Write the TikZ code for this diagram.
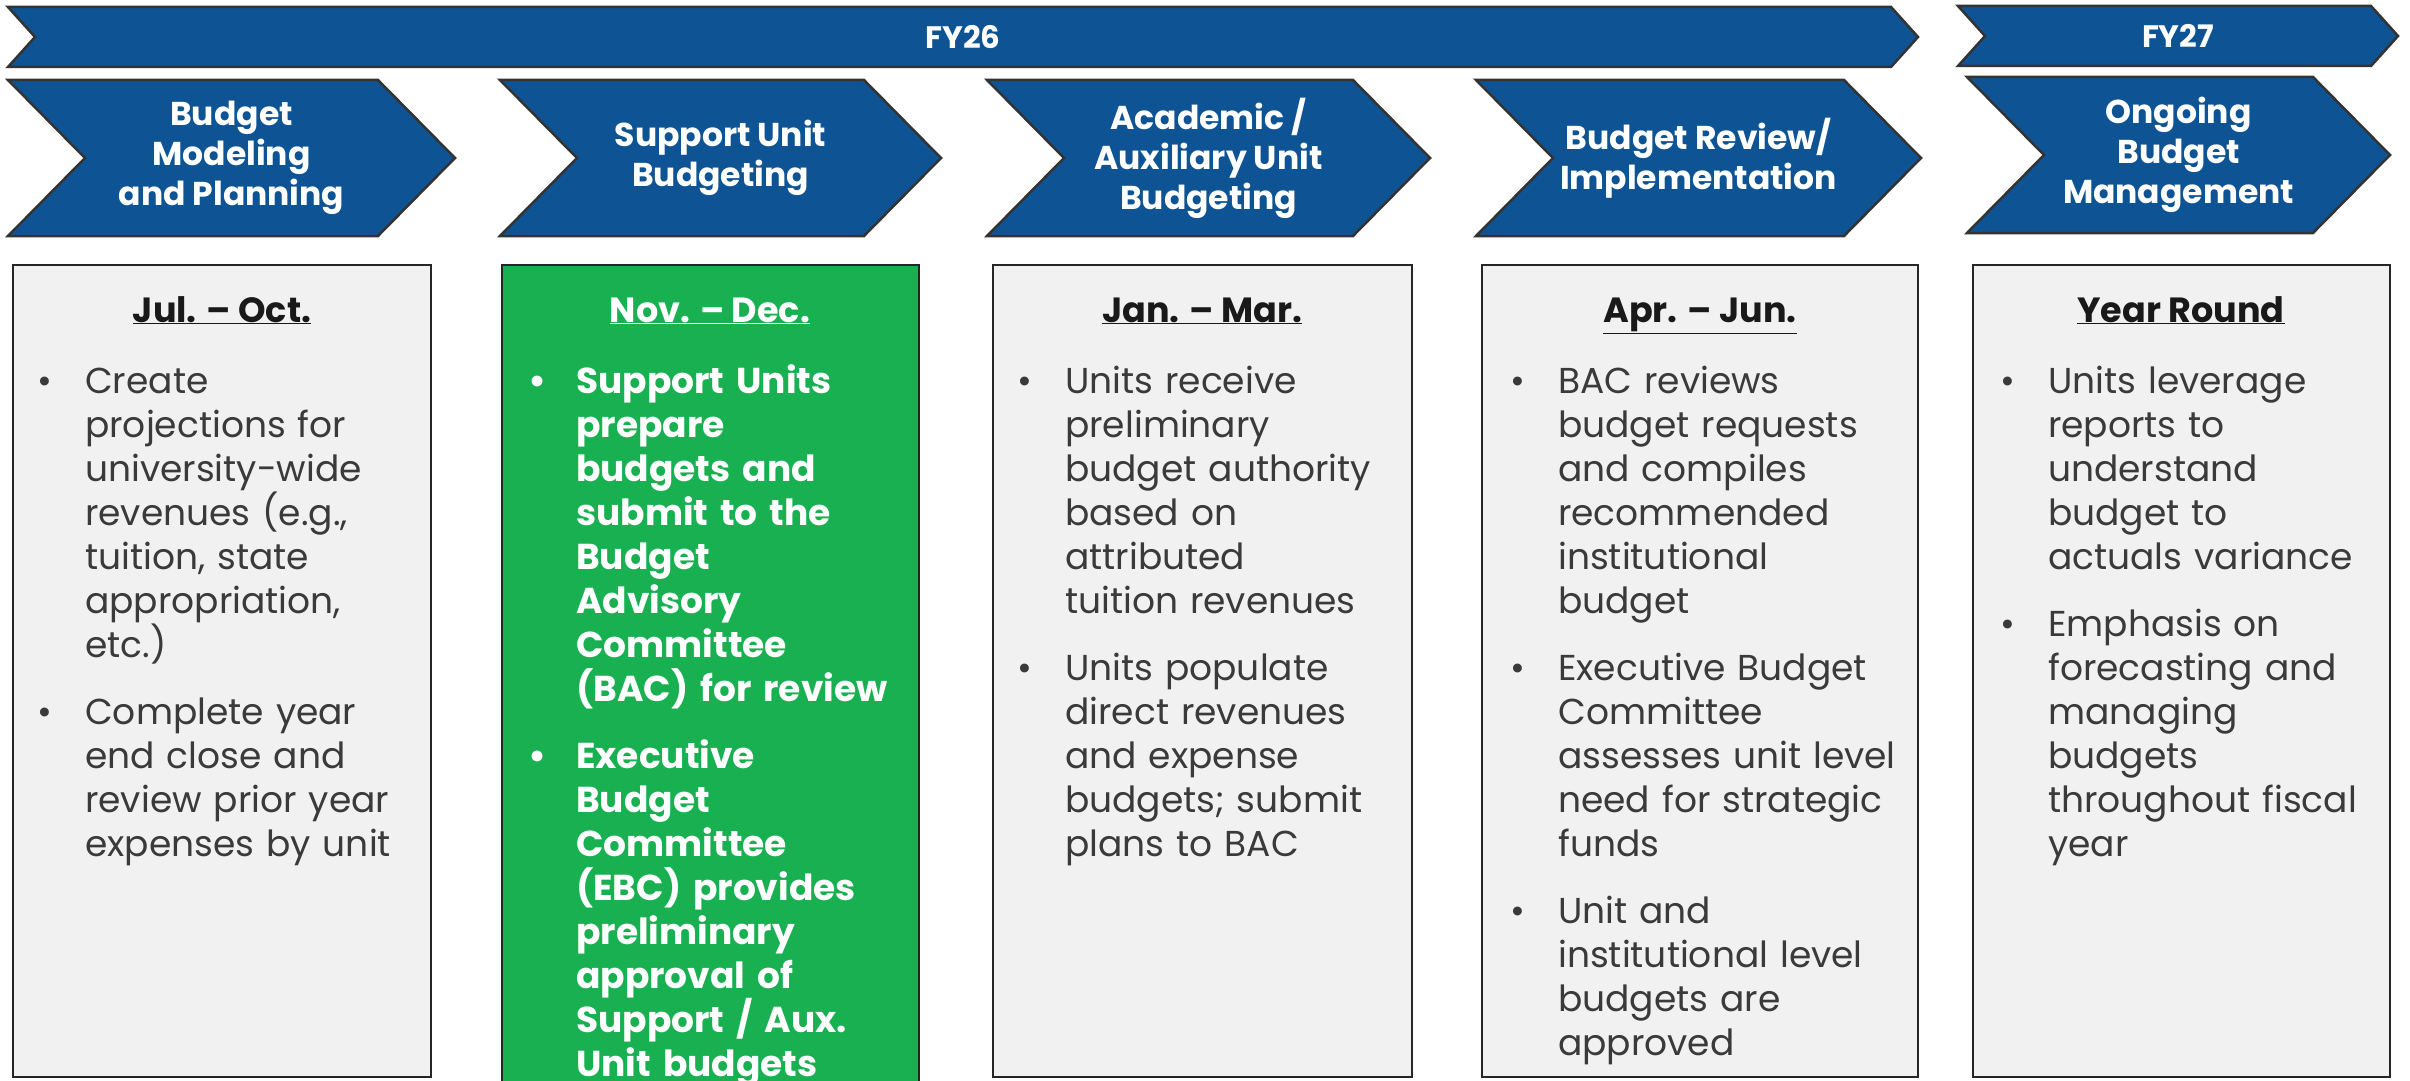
\documentclass[tikz,border=0pt]{standalone}
\usepackage{fontspec}
\setmainfont{Poppins}
\definecolor{navy}{RGB}{14,84,148}
\definecolor{grn}{RGB}{24,176,80}
\definecolor{boxgray}{HTML}{F1F1F1}
\definecolor{txt}{HTML}{3A3A3A}
\newcommand\bu{\makebox[43pt][l]{\hspace*{-5pt}\textbullet}}
\newcommand\ind{\hspace*{43pt}}
\newcommand\chev[6]{% name, x0, ytop, ybot, width, depth
  \draw[chev] (#2,#3) -- (#2+#5-#6,#3) -- (#2+#5,{(#3+#4)/2}) -- (#2+#5-#6,#4) -- (#2,#4) -- (#2+#6,{(#3+#4)/2}) -- cycle;
  \coordinate (#1) at ({#2+#5/2},{(#3+#4)/2});}
\begin{document}
\begin{tikzpicture}[x=1pt,y=-1pt,
  chev/.style={fill=navy,draw=black!80,line width=2.5,line join=miter},
  chevtext/.style={text=white,font=\fontsize{33}{40}\selectfont\bfseries,align=center,inner sep=0},
  yeartext/.style={text=white,font=\fontsize{31}{40}\selectfont\bfseries,align=center,inner sep=0},
  card/.style={fill=boxgray,draw=black!85,line width=2.5},
  head/.style={font=\fontsize{35}{42}\selectfont\bfseries,text=black!90,anchor=base,inner sep=0},
  body/.style={font=\fontsize{36}{44}\selectfont,text=txt,anchor=base west,inner sep=0,text width=420pt,align=left}]
\useasboundingbox (0,0) rectangle (2410,1081);
\fill[white] (0,0) rectangle (2410,1081);

% top year bars
\chev{fy26c}{8}{7}{67}{1910}{27}
\chev{fy27c}{1958}{6}{66}{440}{27}
\node[yeartext] (fy26) at (fy26c) {FY26};
\node[yeartext] (fy27) at (fy27c) {FY27};

% phase chevrons
\chev{c1}{8}{80}{236}{447}{77}
\chev{c2}{500}{80}{236}{441}{77}
\chev{c3}{987}{80}{236}{443}{77}
\chev{c4}{1476}{80}{236}{445}{77}
\chev{c5}{1967}{77}{233}{423}{77}
\node[chevtext] (t1) at (c1) {Budget\\Modeling\\and Planning};
\node[chevtext] (t2) at (c2) {Support Unit\\Budgeting};
\node[chevtext] (t3) at (c3) {Academic /\\Auxiliary Unit\\Budgeting};
\node[chevtext] (t4) at (c4) {Budget Review/\\Implementation};
\node[chevtext] (t5) at (c5) {Ongoing\\Budget\\Management};

% cards
\draw[card] (13,265) rectangle (431,1077);
\fill[grn] (502,265) rectangle (919,1081);
\draw[black!85,line width=2.5] (502,1081) -- (502,265) -- (919,265) -- (919,1081);
\draw[card] (993,265) rectangle (1412,1077);
\draw[card] (1482,265) rectangle (1918,1077);
\draw[card] (1973,265) rectangle (2390,1077);

% headings
\node[head] (h1) at (222,322) {\underline{Jul. – Oct.}};
\node[head,text=white] (h2) at (710,322) {\underline{Nov. – Dec.}};
\node[head] (h3) at (1202,322) {\underline{Jan. – Mar.}};
\node[head] (h4) at (1700,322) {\underline{Apr. – Jun.}};
\node[head] (h5) at (2181,322) {\underline{Year Round}};

% bodies
\node[body] (b1) at (42,393) {\bu Create\\ \ind projections for\\ \ind university-wide\\ \ind revenues (e.g.,\\ \ind tuition, state\\ \ind appropriation,\\ \ind etc.)\\[23pt]
\bu Complete year\\ \ind end close and\\ \ind review prior year\\ \ind expenses by unit};

\node[body,text=white,font=\fontsize{36}{44}\selectfont\bfseries] (b2) at (533,393) {\bu Support Units\\ \ind prepare\\ \ind budgets and\\ \ind submit to the\\ \ind Budget\\ \ind Advisory\\ \ind Committee\\ \ind (BAC) for review\\[23pt]
\bu Executive\\ \ind Budget\\ \ind Committee\\ \ind (EBC) provides\\ \ind preliminary\\ \ind approval of\\ \ind Support / Aux.\\ \ind Unit budgets};

\node[body] (b3) at (1022,393) {\bu Units receive\\ \ind preliminary\\ \ind budget authority\\ \ind based on\\ \ind attributed\\ \ind tuition revenues\\[23pt]
\bu Units populate\\ \ind direct revenues\\ \ind and expense\\ \ind budgets; submit\\ \ind plans to BAC};

\node[body] (b4) at (1515,393) {\bu BAC reviews\\ \ind budget requests\\ \ind and compiles\\ \ind recommended\\ \ind institutional\\ \ind budget\\[23pt]
\bu Executive Budget\\ \ind Committee\\ \ind assesses unit level\\ \ind need for strategic\\ \ind funds\\[23pt]
\bu Unit and\\ \ind institutional level\\ \ind budgets are\\ \ind approved};

\node[body] (b5) at (2005,393) {\bu Units leverage\\ \ind reports to\\ \ind understand\\ \ind budget to\\ \ind actuals variance\\[23pt]
\bu Emphasis on\\ \ind forecasting and\\ \ind managing\\ \ind budgets\\ \ind throughout fiscal\\ \ind year};
\end{tikzpicture}
\end{document}
